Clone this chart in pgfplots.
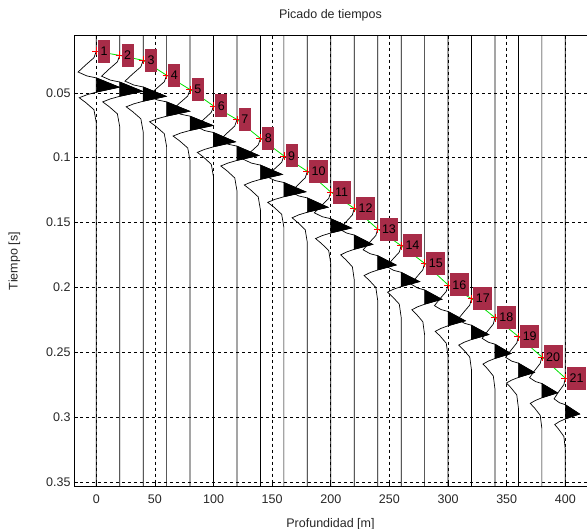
\documentclass[border=0pt]{standalone}
\usepackage{fontspec}
\setmainfont{Liberation Sans}
\usepackage{pgfplots}
\pgfplotsset{compat=1.18}
\definecolor{pickbox}{RGB}{168,44,72}
\definecolor{pickline}{RGB}{0,225,0}

\pgfplotsset{
  trace/.style={black, line width=0.7pt},
  lobe/.style={fill=black, draw=black, line width=0.6pt},
}

\begin{document}
\begin{tikzpicture}
\begin{axis}[name=ax, scale only axis, width=513pt, height=451pt,
    xmin=-19, xmax=418.5, ymin=0.006, ymax=0.3535, y dir=reverse,
    axis line style={draw=none},
    xtick={0,50,100,150,200,250,300,350,400},
    xticklabels={0,50,100,150,200,250,300,350,400},
    ytick={0.05,0.1,0.15,0.2,0.25,0.3,0.35},
    yticklabels={0.05,0.1,0.15,0.2,0.25,0.3,0.35},
    xtick pos=bottom, ytick pos=left,
    tick align=inside, major tick length=4pt,
    tick style={black, line width=0.6pt},
    grid=major, grid style={black, line width=0.6pt, dash pattern=on 3pt off 3pt},
    tick label style={font=\fontsize{12.5}{14}\selectfont, text=black!85},
    xticklabel style={yshift=-5pt},
    label style={font=\fontsize{12.5}{14}\selectfont, text=black!85},
    xlabel style={yshift=-7pt},
    ylabel style={yshift=19pt},
    title style={font=\fontsize{12.5}{14}\selectfont, text=black!85, yshift=5pt},
    title={Picado de tiempos},
    xlabel={Profundidad [m]},
    ylabel={Tiempo [s]},
  ]

% traces: vertical wiggles, one per receiver depth
\addplot[trace] coordinates {(0,0.006) (0,0.0180) (-2,0.0230) (-9,0.0285) (-15.5,0.0340) (-8,0.0370) (0,0.0385) (19.6,0.0457) (0,0.0495) (-8,0.0515) (-14.5,0.0538) (-9,0.0575) (-2,0.0630) (0,0.0730) (0,0.3535)};
\addplot[lobe] coordinates {(0,0.0385) (19.6,0.0457) (0,0.0495)} -- cycle;

\addplot[trace] coordinates {(20,0.006) (20,0.0212) (18,0.0262) (11,0.0317) (4.5,0.0372) (12,0.0402) (20,0.0417) (39.6,0.0489) (20,0.0527) (12,0.0547) (5.5,0.0570) (11,0.0607) (18,0.0662) (20,0.0762) (20,0.3535)};
\addplot[lobe] coordinates {(20,0.0417) (39.6,0.0489) (20,0.0527)} -- cycle;

\addplot[trace] coordinates {(40,0.006) (40,0.0250) (38,0.0300) (31,0.0355) (24.5,0.0410) (32,0.0440) (40,0.0455) (59.6,0.0527) (40,0.0565) (32,0.0585) (25.5,0.0608) (31,0.0645) (38,0.0700) (40,0.0800) (40,0.3535)};
\addplot[lobe] coordinates {(40,0.0455) (59.6,0.0527) (40,0.0565)} -- cycle;

\addplot[trace] coordinates {(60,0.006) (60,0.0365) (58,0.0415) (51,0.0470) (44.5,0.0525) (52,0.0555) (60,0.0570) (79.6,0.0642) (60,0.0680) (52,0.0700) (45.5,0.0723) (51,0.0760) (58,0.0815) (60,0.0915) (60,0.3535)};
\addplot[lobe] coordinates {(60,0.0570) (79.6,0.0642) (60,0.0680)} -- cycle;

\addplot[trace] coordinates {(80,0.006) (80,0.0475) (78,0.0525) (71,0.0580) (64.5,0.0635) (72,0.0665) (80,0.0680) (99.6,0.0752) (80,0.0790) (72,0.0810) (65.5,0.0833) (71,0.0870) (78,0.0925) (80,0.1025) (80,0.3535)};
\addplot[lobe] coordinates {(80,0.0680) (99.6,0.0752) (80,0.0790)} -- cycle;

\addplot[trace] coordinates {(100,0.006) (100,0.0601) (98.1,0.0651) (91.5,0.0706) (85.3,0.0761) (92.4,0.0791) (100,0.0806) (118.6,0.0878) (100,0.0916) (92.4,0.0936) (86.2,0.0959) (91.5,0.0996) (98.1,0.1051) (100,0.1151) (100,0.3535)};
\addplot[lobe] coordinates {(100,0.0806) (118.6,0.0878) (100,0.0916)} -- cycle;

\addplot[trace] coordinates {(120,0.006) (120,0.0706) (118.1,0.0756) (111.5,0.0811) (105.3,0.0866) (112.4,0.0896) (120,0.0911) (138.6,0.0983) (120,0.1021) (112.4,0.1041) (106.2,0.1064) (111.5,0.1101) (118.1,0.1156) (120,0.1256) (120,0.3535)};
\addplot[lobe] coordinates {(120,0.0911) (138.6,0.0983) (120,0.1021)} -- cycle;

\addplot[trace] coordinates {(140,0.006) (140,0.0852) (138.1,0.0902) (131.5,0.0957) (125.3,0.1012) (132.4,0.1042) (140,0.1057) (158.6,0.1129) (140,0.1167) (132.4,0.1187) (126.2,0.1210) (131.5,0.1247) (138.1,0.1302) (140,0.1402) (140,0.3535)};
\addplot[lobe] coordinates {(140,0.1057) (158.6,0.1129) (140,0.1167)} -- cycle;

\addplot[trace] coordinates {(160,0.006) (160,0.0986) (158.1,0.1036) (151.5,0.1091) (145.3,0.1146) (152.4,0.1176) (160,0.1191) (178.6,0.1263) (160,0.1301) (152.4,0.1321) (146.2,0.1344) (151.5,0.1381) (158.1,0.1436) (160,0.1536) (160,0.3535)};
\addplot[lobe] coordinates {(160,0.1191) (178.6,0.1263) (160,0.1301)} -- cycle;

\addplot[trace] coordinates {(180,0.006) (180,0.1105) (178.2,0.1155) (171.9,0.1210) (166,0.1265) (172.8,0.1295) (180,0.1310) (197.6,0.1382) (180,0.1420) (172.8,0.1440) (167,0.1463) (171.9,0.1500) (178.2,0.1555) (180,0.1655) (180,0.3535)};
\addplot[lobe] coordinates {(180,0.1310) (197.6,0.1382) (180,0.1420)} -- cycle;

\addplot[trace] coordinates {(200,0.006) (200,0.1265) (198.2,0.1315) (191.9,0.1370) (186,0.1425) (192.8,0.1455) (200,0.1470) (217.6,0.1542) (200,0.1580) (192.8,0.1600) (187,0.1623) (191.9,0.1660) (198.2,0.1715) (200,0.1815) (200,0.3535)};
\addplot[lobe] coordinates {(200,0.1470) (217.6,0.1542) (200,0.1580)} -- cycle;

\addplot[trace] coordinates {(220,0.006) (220,0.1391) (218.4,0.1441) (212.8,0.1496) (207.6,0.1551) (213.6,0.1581) (220,0.1596) (235.7,0.1668) (220,0.1706) (213.6,0.1726) (208.4,0.1749) (212.8,0.1786) (218.4,0.1841) (220,0.1941) (220,0.3535)};
\addplot[lobe] coordinates {(220,0.1596) (235.7,0.1668) (220,0.1706)} -- cycle;

\addplot[trace] coordinates {(240,0.006) (240,0.1550) (238.4,0.1600) (232.8,0.1655) (227.6,0.1710) (233.6,0.1740) (240,0.1755) (255.7,0.1827) (240,0.1865) (233.6,0.1885) (228.4,0.1908) (232.8,0.1945) (238.4,0.2000) (240,0.2100) (240,0.3535)};
\addplot[lobe] coordinates {(240,0.1755) (255.7,0.1827) (240,0.1865)} -- cycle;

\addplot[trace] coordinates {(260,0.006) (260,0.1678) (258.4,0.1728) (252.8,0.1783) (247.6,0.1838) (253.6,0.1868) (260,0.1883) (275.7,0.1955) (260,0.1993) (253.6,0.2013) (248.4,0.2036) (252.8,0.2073) (258.4,0.2128) (260,0.2228) (260,0.3535)};
\addplot[lobe] coordinates {(260,0.1883) (275.7,0.1955) (260,0.1993)} -- cycle;

\addplot[trace] coordinates {(280,0.006) (280,0.1814) (278.5,0.1864) (273.3,0.1919) (268.4,0.1974) (274,0.2004) (280,0.2019) (294.7,0.2091) (280,0.2129) (274,0.2149) (269.1,0.2172) (273.3,0.2209) (278.5,0.2264) (280,0.2364) (280,0.3535)};
\addplot[lobe] coordinates {(280,0.2019) (294.7,0.2091) (280,0.2129)} -- cycle;

\addplot[trace] coordinates {(300,0.006) (300,0.1980) (298.5,0.2030) (293.3,0.2085) (288.4,0.2140) (294,0.2170) (300,0.2185) (314.7,0.2257) (300,0.2295) (294,0.2315) (289.1,0.2338) (293.3,0.2375) (298.5,0.2430) (300,0.2530) (300,0.3535)};
\addplot[lobe] coordinates {(300,0.2185) (314.7,0.2257) (300,0.2295)} -- cycle;

\addplot[trace] coordinates {(320,0.006) (320,0.2086) (318.5,0.2136) (313.3,0.2191) (308.4,0.2246) (314,0.2276) (320,0.2291) (334.7,0.2363) (320,0.2401) (314,0.2421) (309.1,0.2444) (313.3,0.2481) (318.5,0.2536) (320,0.2636) (320,0.3535)};
\addplot[lobe] coordinates {(320,0.2291) (334.7,0.2363) (320,0.2401)} -- cycle;

\addplot[trace] coordinates {(340,0.006) (340,0.2232) (338.6,0.2282) (333.7,0.2337) (329.1,0.2392) (334.4,0.2422) (340,0.2437) (353.7,0.2509) (340,0.2547) (334.4,0.2567) (329.8,0.2590) (333.7,0.2627) (338.6,0.2682) (340,0.2782) (340,0.3535)};
\addplot[lobe] coordinates {(340,0.2437) (353.7,0.2509) (340,0.2547)} -- cycle;

\addplot[trace] coordinates {(360,0.006) (360,0.2378) (358.6,0.2428) (353.7,0.2483) (349.1,0.2538) (354.4,0.2568) (360,0.2583) (373.7,0.2655) (360,0.2693) (354.4,0.2713) (349.8,0.2736) (353.7,0.2773) (358.6,0.2828) (360,0.2928) (360,0.3535)};
\addplot[lobe] coordinates {(360,0.2583) (373.7,0.2655) (360,0.2693)} -- cycle;

\addplot[trace] coordinates {(380,0.006) (380,0.2535) (378.6,0.2585) (373.9,0.2640) (369.5,0.2695) (374.6,0.2725) (380,0.2740) (393.3,0.2812) (380,0.2850) (374.6,0.2870) (370.1,0.2893) (373.9,0.2930) (378.6,0.2985) (380,0.3085) (380,0.3535)};
\addplot[lobe] coordinates {(380,0.2740) (393.3,0.2812) (380,0.2850)} -- cycle;

\addplot[trace] coordinates {(400,0.006) (400,0.2698) (398.8,0.2748) (394.4,0.2803) (390.4,0.2858) (395,0.2888) (400,0.2903) (412.2,0.2975) (400,0.3013) (395,0.3033) (391,0.3056) (394.4,0.3093) (398.8,0.3148) (400,0.3248) (400,0.3535)};
\addplot[lobe] coordinates {(400,0.2903) (412.2,0.2975) (400,0.3013)} -- cycle;

% picked first arrivals
\addplot[pickline, line width=0.8pt] coordinates {
  (0,0.0180) (20,0.0212) (40,0.0250) (60,0.0365) (80,0.0475) (100,0.0601) (120,0.0706)
  (140,0.0852) (160,0.0986) (180,0.1105) (200,0.1265) (220,0.1391) (240,0.1550)
  (260,0.1678) (280,0.1814) (300,0.1980) (320,0.2086) (340,0.2232) (360,0.2378)
  (380,0.2535) (400,0.2698)};
\addplot[red, only marks, mark=+, mark size=4pt, mark options={line width=0.7pt},
  nodes near coords, point meta=explicit symbolic,
  every node near coord/.append style={anchor=west, xshift=1.5pt, fill=pickbox, text=black,
    inner xsep=2.5pt, inner ysep=0pt, minimum height=23pt, font=\fontsize{12.5}{14}\selectfont}]
  coordinates {
  (0,0.0180)[1] (20,0.0212)[2] (40,0.0250)[3] (60,0.0365)[4] (80,0.0475)[5]
  (100,0.0601)[6] (120,0.0706)[7] (140,0.0852)[8] (160,0.0986)[9] (180,0.1105)[10]
  (200,0.1265)[11] (220,0.1391)[12] (240,0.1550)[13] (260,0.1678)[14] (280,0.1814)[15]
  (300,0.1980)[16] (320,0.2086)[17] (340,0.2232)[18] (360,0.2378)[19] (380,0.2535)[20]
  (400,0.2698)[21]};

\draw[black, line width=0.7pt] (rel axis cs:1,0) -- (rel axis cs:0,0) -- (rel axis cs:0,1) -- (rel axis cs:1,1);
\end{axis}
\pgfresetboundingbox
\path[use as bounding box] ([xshift=-74pt,yshift=-42pt]ax.south west) rectangle ([yshift=35.7pt]ax.north east);
\end{tikzpicture}
\end{document}
